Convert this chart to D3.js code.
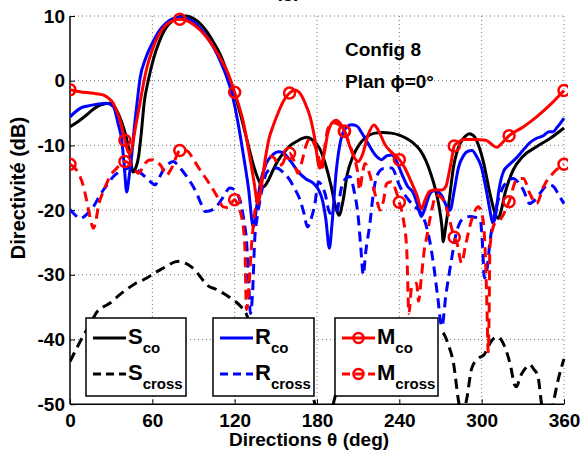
<!DOCTYPE html>
<html><head><meta charset="utf-8">
<script src="https://cdn.jsdelivr.net/npm/d3@7/dist/d3.min.js"></script>
<style>body{margin:0;background:#fff}svg{display:block}text{font-family:"Liberation Sans",Arial,sans-serif;font-weight:bold}</style>
</head><body>
<svg id="c" width="584" height="454"></svg>
<script>
const xTicks=[0,60,120,180,240,300,360];
const yTicks=[-50,-40,-30,-20,-10,0,10];
const markerStep=40;

const S_co=[[0,-7.1],[6,-6.3],[12,-5.3],[17,-4.4],[22,-3.75],[29,-3.5],[33,-4.2],[35,-5],[38,-6.6],[41,-8.7],[43.5,-11.3],[46,-14.1],[48,-13.4],[50,-11.7],[52,-8],[54,-3.5],[57,0],[61,3.5],[65,6],[70,8.2],[75,9.3],[80,9.9],[85,10],[90,9.6],[95,8.8],[100,7.5],[105,5.8],[110,3.8],[115,1],[119,-1.4],[124,-5],[129,-9.2],[134,-13.3],[138,-15.6],[141,-16.4],[144,-15.6],[148,-13.8],[152,-12.2],[155.5,-11.2],[160,-10.1],[165,-9.4],[172.5,-8.75],[177,-9.2],[182,-10.5],[186,-12.8],[190,-16],[193,-19],[196,-20.8],[199,-18.5],[202,-14.5],[206,-11.8],[211,-9.8],[216,-8.7],[222,-8.1],[228,-8],[234,-8.1],[240,-8.4],[245,-8.9],[250,-9.6],[255,-10.7],[259,-12.2],[262,-13.8],[265,-15.8],[267,-17.4],[269,-19.5],[271,-22.5],[272,-24.9],[273.5,-23],[275.5,-20],[277.5,-16.5],[279.5,-13.3],[282,-11],[284.5,-9.6],[288,-8.6],[291,-8.2],[294,-8.5],[297,-9.6],[301,-12.3],[306,-17.4],[309,-20],[312,-21.3],[314.5,-19.8],[317,-17.4],[323,-13.8],[330,-11.7],[340,-10.2],[350,-8.9],[360,-7.3]];

const S_cross=[[0,-43.4],[5,-41.3],[10,-39.3],[15,-37.5],[19.4,-35.8],[24,-35],[29,-34.4],[35,-33.3],[41,-32.3],[48,-31.3],[56,-30.5],[61,-29.8],[66,-29.2],[71,-28.6],[76.5,-28],[80,-27.9],[84,-28.2],[88,-28.7],[92,-29.5],[96,-30.6],[100,-31.6],[107,-32.3],[112,-32.9],[117,-33.6],[121,-34.2],[125,-35],[128,-35.8],[131,-37.5],[136,-41],[142,-44],[150,-46],[158,-45],[166,-45.5],[172,-47],[177,-49],[181,-51.5],[186,-53],[190,-51.5],[193,-49],[197,-46],[205,-44],[215,-43],[225,-44],[235,-45],[245,-44],[255,-42],[263,-39.5],[268,-38.5],[272,-39],[276,-41],[279.5,-43.7],[283,-49.3],[285,-51.5],[287,-51],[289,-49.3],[292.7,-44.5],[297,-43],[302,-42.3],[306,-40.6],[309,-39.8],[312,-39.6],[315,-40.3],[318,-41.8],[321,-44],[324,-47],[325.5,-47.3],[328,-45.8],[331,-44.7],[335,-43.9],[338,-44.6],[341,-45.7],[343.7,-50],[346,-52],[350,-52],[352,-50],[356,-46],[360,-43]];

const R_co=[[0,-5.6],[4,-4.8],[8,-4.2],[13,-3.9],[18,-3.7],[23,-3.55],[26.7,-3.5],[31.6,-4],[35,-6.6],[37.7,-9.2],[39.5,-13],[41.3,-17.2],[43,-15],[45,-11.5],[47,-7],[49,-3.2],[51,0.3],[55,3.4],[60,5.8],[65,7.7],[70,8.9],[75,9.6],[80,9.8],[85,9.6],[90,9.1],[95,8.1],[100,6.7],[105,5],[110,2.8],[114,0.7],[118,-2],[122,-6],[126,-11],[130,-16.5],[133.6,-22.6],[136,-19.5],[139,-15.5],[143,-12.8],[148,-11.4],[152,-11],[155.5,-11.2],[161,-12.5],[166,-14],[172,-15.2],[177,-15.8],[181,-16.8],[184,-18.5],[186.5,-21.5],[189,-25.9],[191,-22],[194,-14],[197,-9.5],[201,-7.3],[205,-6.8],[209,-7],[213,-8.2],[218,-10],[223,-11.6],[227,-12.2],[231,-11.6],[234.5,-11.5],[238,-12.5],[242,-14.5],[246,-16.3],[250,-17.3],[253,-19],[256,-21],[259,-19.5],[262,-17.6],[265,-17],[268,-17.1],[271,-17.8],[274,-19.2],[277,-20],[280,-17],[283,-13.5],[287,-11.5],[290,-10.9],[293,-10.8],[296,-11.6],[300,-13.5],[303,-16.5],[306,-20],[308,-22],[310,-21],[312.5,-17],[316,-14],[320,-13],[325,-12],[330,-10.8],[335,-9.6],[340,-8.9],[345,-8.5],[349,-7.9],[352,-7.9],[355,-7.2],[358,-6.4],[360,-5.8]];

const R_cross=[[0,-19.9],[3,-20.6],[7.3,-21.3],[12,-20.7],[17,-19.5],[20.5,-18.2],[24.3,-16.9],[28,-15.8],[31.6,-14.8],[35,-14.2],[38.8,-13.8],[42,-13.5],[45,-13.3],[49,-13.8],[53.4,-14.6],[58,-15.5],[62,-16.1],[65,-15],[68,-13.8],[71.5,-12.9],[75.3,-12.5],[78,-12.9],[81.5,-13.8],[85,-14.8],[89,-16.1],[92.3,-17.4],[95.5,-19],[98.4,-20.2],[102,-20.1],[106.9,-19.4],[111,-18.2],[116.6,-16.6],[120.2,-16.9],[123,-18],[125,-19.4],[127,-22],[128.6,-24.6],[130,-30],[131.5,-36],[133,-33],[134.6,-24.6],[136.5,-21],[138.5,-18.4],[141,-15.8],[143,-14.3],[147,-13.6],[150.6,-13.5],[155,-14.1],[160,-15.3],[164,-16.8],[167.6,-18.4],[170.5,-20.5],[173,-22.6],[175.5,-21.5],[178.5,-19],[181,-15.6],[183.5,-16.2],[185.8,-17.4],[189.5,-20.5],[194,-20.5],[198,-16.4],[201,-15.1],[204,-14.8],[207,-17],[210,-21],[212,-26],[213.7,-30],[215.5,-26.5],[218.6,-22],[221,-17.5],[223.5,-14.8],[228,-13.6],[234.4,-13.5],[240.5,-16.4],[246.6,-18.4],[251.5,-19.5],[256,-20.5],[259,-22],[262,-24.6],[265,-28.5],[268,-33.5],[271,-38],[274,-33],[278,-27.7],[281,-24],[284,-22],[287.5,-21.2],[291.5,-21],[295,-21.1],[299,-21.5],[300.5,-25],[302,-30.5],[304,-29],[306,-25],[308.5,-21.5],[312,-18.5],[315.7,-16.4],[319,-15.5],[323,-15.1],[327,-15.8],[330.4,-16.9],[335,-19],[338,-18.6],[342.5,-17.4],[346,-16.5],[349.8,-16.1],[353,-16.5],[356,-17.6],[360,-19]];

const M_co=[[0,-1.4],[7,-1.7],[17,-1.95],[24,-2.2],[28,-2.7],[31.6,-3.5],[34,-4.7],[36.4,-6.1],[40,-9.2],[42,-10.8],[43.7,-11.4],[45.5,-10],[47.4,-7.6],[51,-3.5],[53.5,-0.5],[56,2],[60,4.8],[65,7.2],[70,8.6],[75,9.3],[80,9.5],[85,9.3],[90,8.7],[95,7.8],[100,6.6],[105,5.1],[110,3.3],[115,1.2],[120,-1.8],[123,-3.8],[126,-6.1],[130,-10.5],[134,-15.5],[137,-19],[139,-17],[142,-12.5],[145,-9],[148,-7],[152,-4.8],[156,-3],[160,-1.9],[164,-1.45],[167,-1.8],[171,-3.3],[175,-5.6],[178,-8.5],[182,-13.5],[185,-11.5],[188,-8],[191,-6.5],[194,-6.1],[197,-6.6],[200,-7.8],[204,-10.2],[207,-11.8],[210,-12.5],[213,-11.5],[217,-8.5],[221.5,-6.85],[225,-7.8],[229.6,-9.9],[234,-11],[240,-12.2],[244,-13.5],[249,-15.8],[253,-17.8],[256,-19.8],[259,-18.3],[262,-17.1],[266,-16.9],[270.8,-16.9],[274,-16.3],[276,-14.5],[278,-12.3],[280,-10.1],[283,-9.5],[287,-9.1],[294,-9.1],[303,-9.2],[307,-9.8],[311,-10.3],[315,-9.6],[320,-8.5],[330,-7.2],[340,-5.6],[350,-3.7],[360,-1.5]];

const M_cross=[[0,-12.9],[3.5,-13.5],[7.3,-14.8],[10,-16.5],[12,-18.4],[14.5,-21],[17,-22.8],[19,-21.5],[20.6,-19.5],[23.5,-17.5],[26.7,-15.9],[29.5,-14.6],[32.8,-13.8],[36.5,-13],[40,-12.5],[42.5,-12.7],[45,-13.3],[47.5,-13.9],[50,-14.3],[52.5,-13.6],[54.7,-12.8],[57.5,-12.3],[60.7,-12.2],[63.5,-12.6],[66.8,-13.3],[68.8,-14.2],[70.4,-14.6],[73,-13.9],[75.3,-13],[77.5,-11.7],[80,-10.8],[83,-10.7],[86.3,-11],[90,-12.2],[94.8,-13.8],[100,-15.4],[104.5,-16.9],[108,-18.2],[111.7,-19.5],[115,-19.6],[118,-18.8],[120,-18.4],[122.5,-19.3],[125,-21],[126.5,-23],[127.5,-26],[128.6,-35.4],[130,-33],[132.4,-25.1],[134,-21.5],[136,-18.4],[139.7,-15.3],[143,-12.5],[146.8,-11.7],[149,-12],[152,-13.2],[155,-12.8],[157,-11.8],[160,-11.2],[163,-12.3],[166,-14.3],[169,-12.5],[172,-10],[175,-8.9],[178,-9.8],[181,-11.7],[183.4,-13.8],[185.5,-10.5],[188,-7.4],[192,-6.5],[196,-6.8],[200,-7.8],[204,-10],[207.7,-12.3],[209.5,-14],[211,-16.9],[213,-14.5],[215,-12.8],[218,-14.2],[221,-16.5],[223.5,-18.4],[226,-20],[228.5,-18.5],[230.7,-15.9],[234.4,-15.6],[237.5,-17],[240,-18.8],[243,-21.5],[245.4,-26.2],[247,-36],[249,-31.8],[252.6,-31.3],[254,-34.1],[256,-30.5],[258,-26.5],[260,-24.1],[263.6,-20],[267,-17.7],[272,-18.4],[276,-21],[280,-24.2],[282,-25.1],[285.4,-28.2],[288,-25.7],[292.7,-21.5],[297.6,-19.5],[301,-21.5],[302.5,-26],[303.6,-32.9],[304.8,-41.9],[305.5,-35],[306,-25.7],[309.7,-22],[313.4,-21.5],[317,-20.2],[320,-18.7],[325.5,-15.3],[330.4,-15.1],[335,-17.4],[340,-19],[345,-16.4],[352,-14.3],[356,-13.5],[360,-12.9]];

const series=[
 {name:"S",sub:"co",data:S_co,color:"#000",dash:null,marker:false},
 {name:"S",sub:"cross",data:S_cross,color:"#000",dash:"10,6",marker:false},
 {name:"R",sub:"co",data:R_co,color:"#0000ff",dash:null,marker:false},
 {name:"R",sub:"cross",data:R_cross,color:"#0000ff",dash:"10,6",marker:false},
 {name:"M",sub:"co",data:M_co,color:"#ff0000",dash:null,marker:true},
 {name:"M",sub:"cross",data:M_cross,color:"#ff0000",dash:"10,6",marker:true}
];

const svg=d3.select("#c");
const L=70,R=564,T=16,B=404.2;
const x=d3.scaleLinear().domain([0,360]).range([L,R]);
const y=d3.scaleLinear().domain([-50,10]).range([B,T]);

svg.append("defs").append("clipPath").attr("id","clip").append("rect")
 .attr("x",L).attr("y",T-4).attr("width",R-L+4).attr("height",B-T+4);

// grid
const g=svg.append("g");
g.selectAll(".vg").data(xTicks.filter(d=>d>0)).join("line")
 .attr("x1",d=>x(d)).attr("x2",d=>x(d)).attr("y1",T).attr("y2",B)
 .attr("stroke","#7a7a7a").attr("stroke-width",1).attr("stroke-dasharray","1,3");
g.selectAll(".hg").data(yTicks.filter(d=>d>-50)).join("line")
 .attr("x1",L).attr("x2",R).attr("y1",d=>y(d)).attr("y2",d=>y(d))
 .attr("stroke","#7a7a7a").attr("stroke-width",1).attr("stroke-dasharray","1,3");

// axes
const xa=svg.append("g").attr("transform",`translate(0,${B})`)
 .call(d3.axisBottom(x).tickValues(xTicks).tickSize(-5).tickPadding(9).tickFormat(d3.format("d")));
const ya=svg.append("g").attr("transform",`translate(${L},0)`)
 .call(d3.axisLeft(y).tickValues(yTicks).tickSize(-5).tickPadding(5).tickFormat(d=>d<0?"-"+Math.abs(d):d));
[xa,ya].forEach(a=>{
 a.select(".domain").attr("stroke","#000").attr("stroke-width",1.5);
 a.selectAll(".tick line").attr("stroke","#000");
 a.selectAll(".tick text").attr("fill","#000").style("font-size","19px")
  .style("font-family","'Liberation Sans',Arial,sans-serif").style("font-weight","bold");
});
xa.select(".domain").attr("d",`M${L},0H${R}`);
ya.select(".domain").attr("d",`M0,${B}V${T}`);

// curves
const line=d3.line().x(d=>x(d[0])).y(d=>y(d[1])).curve(d3.curveMonotoneX);
const plot=svg.append("g").attr("clip-path","url(#clip)");
series.forEach(s=>{
 plot.append("path").datum(s.data).attr("d",line).attr("fill","none")
  .attr("stroke",s.color).attr("stroke-width",3).attr("stroke-linejoin","round")
  .attr("stroke-dasharray",s.dash);
 if(s.marker){
  plot.selectAll(null).data(s.data.filter(d=>d[0]%markerStep===0)).join("circle")
   .attr("cx",d=>x(d[0])).attr("cy",d=>y(d[1])).attr("r",5.5)
   .attr("fill","none").attr("stroke",s.color).attr("stroke-width",2.5);
 }
});

// annotation
svg.append("text").attr("x",345).attr("y",56).style("font-size","19px").text("Config 8");
svg.append("text").attr("x",345).attr("y",88).style("font-size","19px").text("Plan ϕ=0°");

// title (cut off at the top edge, as in the reference)
svg.append("text").attr("x",288).attr("y",-3).attr("text-anchor","middle").style("font-size","20px").text("(g)");

// axis labels
svg.append("text").attr("x",309).attr("y",446).attr("text-anchor","middle").style("font-size","19px").text("Directions θ (deg)");
svg.append("text").attr("transform","translate(25,188) rotate(-90)").attr("text-anchor","middle").style("font-size","20px").text("Directivité (dB)");

// legends
const boxes=[{x:86,w:100,items:[series[0],series[1]]},{x:213,w:101,items:[series[2],series[3]]},{x:335,w:103,items:[series[4],series[5]]}];
boxes.forEach(b=>{
 const lg=svg.append("g");
 lg.append("rect").attr("x",b.x).attr("y",318).attr("width",b.w).attr("height",78)
  .attr("fill","#fff").attr("stroke","#000").attr("stroke-width",1.5);
 b.items.forEach((s,i)=>{
  const ly=i===0?338:374;
  lg.append("line").attr("x1",b.x+7).attr("x2",b.x+40).attr("y1",ly).attr("y2",ly)
   .attr("stroke",s.color).attr("stroke-width",3).attr("stroke-dasharray",s.dash?"8,5":null);
  if(s.marker) lg.append("circle").attr("cx",b.x+23.5).attr("cy",ly).attr("r",5)
   .attr("fill","none").attr("stroke",s.color).attr("stroke-width",2.5);
  const t=lg.append("text").attr("x",b.x+42).attr("y",ly+6).style("font-size","22px");
  t.append("tspan").text(s.name);
  t.append("tspan").attr("dy",9).style("font-size","15px").text(s.sub);
 });
});
</script>
</body></html>
